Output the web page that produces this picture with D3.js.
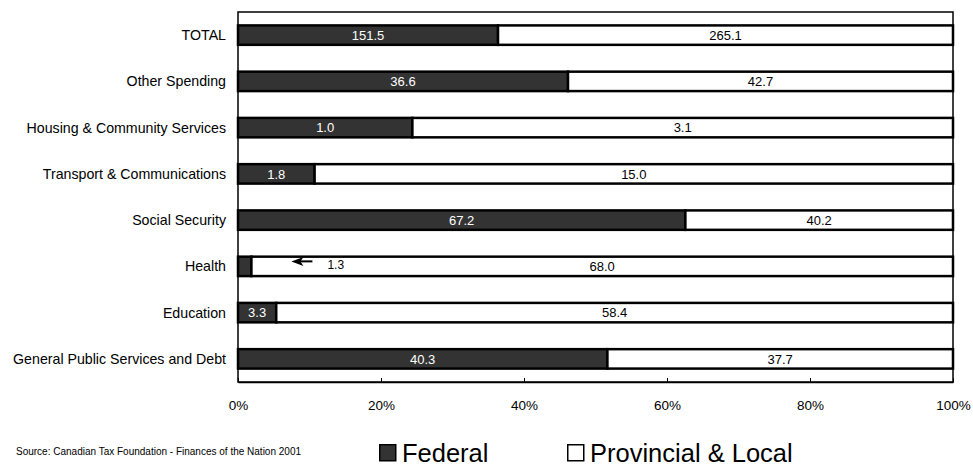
<!DOCTYPE html>
<html>
<head>
<meta charset="utf-8">
<script src="https://cdn.jsdelivr.net/npm/d3@7"></script>
<style>
  html, body { margin: 0; padding: 0; background: #fff; }
  svg { display: block; font-family: "Liberation Sans", Arial, sans-serif; }
</style>
</head>
<body>
<svg id="chart" width="973" height="466"></svg>
<script>
// Government spending by function, $ billions (Federal vs Provincial & Local)
const categories = [
  "TOTAL",
  "Other Spending",
  "Housing & Community Services",
  "Transport & Communications",
  "Social Security",
  "Health",
  "Education",
  "General Public Services and Debt"
];
const federal    = [151.5, 36.6, 1.0, 1.8, 67.2, 1.3, 3.3, 40.3];
const provincial = [265.1, 42.7, 3.1, 15.0, 40.2, 68.0, 58.4, 37.7];
const tickValues = [0, 0.2, 0.4, 0.6, 0.8, 1.0];
const seriesNames = ["Federal", "Provincial & Local"];
const seriesColors = ["#333333", "#ffffff"];

const svg = d3.select("#chart");
const margin = { left: 238, top: 12, right: 20, bottom: 84 };
const W = 973, H = 466;

const x = d3.scaleLinear().domain([0, 1]).range([margin.left, W - margin.right]);
const y = d3.scaleBand().domain(categories).range([margin.top, H - margin.bottom]).paddingInner(0.58).paddingOuter(0.29);

const rows = categories.map((c, i) => {
  const tot = federal[i] + provincial[i];
  return { cat: c, fed: federal[i], prov: provincial[i], fShare: federal[i] / tot };
});

// plot frame
svg.append("rect")
  .attr("x", x(0)).attr("y", margin.top)
  .attr("width", x(1) - x(0)).attr("height", H - margin.bottom - margin.top)
  .attr("fill", "none").attr("stroke", "#000").attr("stroke-width", 1.5);

// x axis with inward ticks
const xAxis = d3.axisBottom(x).tickValues(tickValues).tickFormat(d3.format(".0%")).tickSizeInner(-4).tickSizeOuter(0).tickPadding(18);
const gx = svg.append("g").attr("transform", `translate(0,${H - margin.bottom})`).call(xAxis);
gx.select(".domain").attr("stroke", "#000").attr("stroke-width", 1.5);
gx.selectAll(".tick line").attr("stroke", "#000");
gx.selectAll(".tick text").attr("font-size", 13.5).attr("fill", "#000").attr("font-family", "Liberation Sans, Arial, sans-serif");

// category labels
svg.append("g").selectAll("text").data(rows).join("text")
  .attr("x", margin.left - 12)
  .attr("y", d => y(d.cat) + y.bandwidth() / 2)
  .attr("dy", "0.35em")
  .attr("text-anchor", "end")
  .attr("font-size", 14.2)
  .text(d => d.cat);

const bars = svg.append("g");
// federal segment
bars.selectAll("rect.fed").data(rows).join("rect").attr("class", "fed")
  .attr("x", x(0)).attr("y", d => y(d.cat))
  .attr("width", d => x(d.fShare) - x(0)).attr("height", y.bandwidth())
  .attr("fill", seriesColors[0]).attr("stroke", "#000").attr("stroke-width", 2.5);
// provincial & local segment
bars.selectAll("rect.prov").data(rows).join("rect").attr("class", "prov")
  .attr("x", d => x(d.fShare)).attr("y", d => y(d.cat))
  .attr("width", d => x(1) - x(d.fShare)).attr("height", y.bandwidth())
  .attr("fill", seriesColors[1]).attr("stroke", "#000").attr("stroke-width", 2.5);

// value labels
const labels = svg.append("g").attr("font-size", 13);
labels.selectAll("text.pv").data(rows).join("text").attr("class", "pv")
  .attr("x", d => (x(d.fShare) + x(1)) / 2)
  .attr("y", d => y(d.cat) + y.bandwidth() / 2).attr("dy", "0.36em")
  .attr("text-anchor", "middle").attr("fill", "#000")
  .text(d => d.prov.toFixed(1));

const inside = rows.filter(d => x(d.fShare) - x(0) > 30);
labels.selectAll("text.fv").data(inside).join("text").attr("class", "fv")
  .attr("x", d => (x(0) + x(d.fShare)) / 2)
  .attr("y", d => y(d.cat) + y.bandwidth() / 2).attr("dy", "0.36em")
  .attr("text-anchor", "middle").attr("fill", "#fff")
  .text(d => d.fed.toFixed(1));

// small federal share labelled outside with a pointer arrow
const tiny = rows.filter(d => x(d.fShare) - x(0) <= 30);
tiny.forEach(d => {
  const cy = y(d.cat) + y.bandwidth() / 2;
  const x0 = x(d.fShare);
  const tip = x0 + 40, tail = x0 + 61, ay = cy - 5;
  svg.append("line").attr("x1", tip + 8).attr("x2", tail).attr("y1", ay).attr("y2", ay)
    .attr("stroke", "#000").attr("stroke-width", 2);
  svg.append("path")
    .attr("d", `M${tip},${ay} L${tip + 12},${ay - 4.5} L${tip + 9},${ay} L${tip + 12},${ay + 4.5} Z`)
    .attr("fill", "#000");
  svg.append("text").attr("x", x0 + 76).attr("y", cy - 2).attr("dy", "0.36em")
    .attr("font-size", 12).attr("fill", "#000").text(d.fed.toFixed(1));
});

// source note
svg.append("text").attr("x", 16).attr("y", 455).attr("font-size", 10).attr("fill", "#000")
  .text("Source: Canadian Tax Foundation - Finances of the Nation 2001");

// legend
const legendX = [379, 567];
const lg = svg.append("g").selectAll("g").data(seriesNames).join("g")
  .attr("transform", (d, i) => `translate(${legendX[i]},444)`);
lg.append("rect").attr("x", 0.75).attr("y", 0.75).attr("width", 16).attr("height", 16)
  .attr("fill", (d, i) => seriesColors[i]).attr("stroke", "#000").attr("stroke-width", 1.5);
lg.append("text").attr("x", 23).attr("y", 18).attr("font-size", 25.5).attr("fill", "#000")
  .text(d => d);
</script>
</body>
</html>
